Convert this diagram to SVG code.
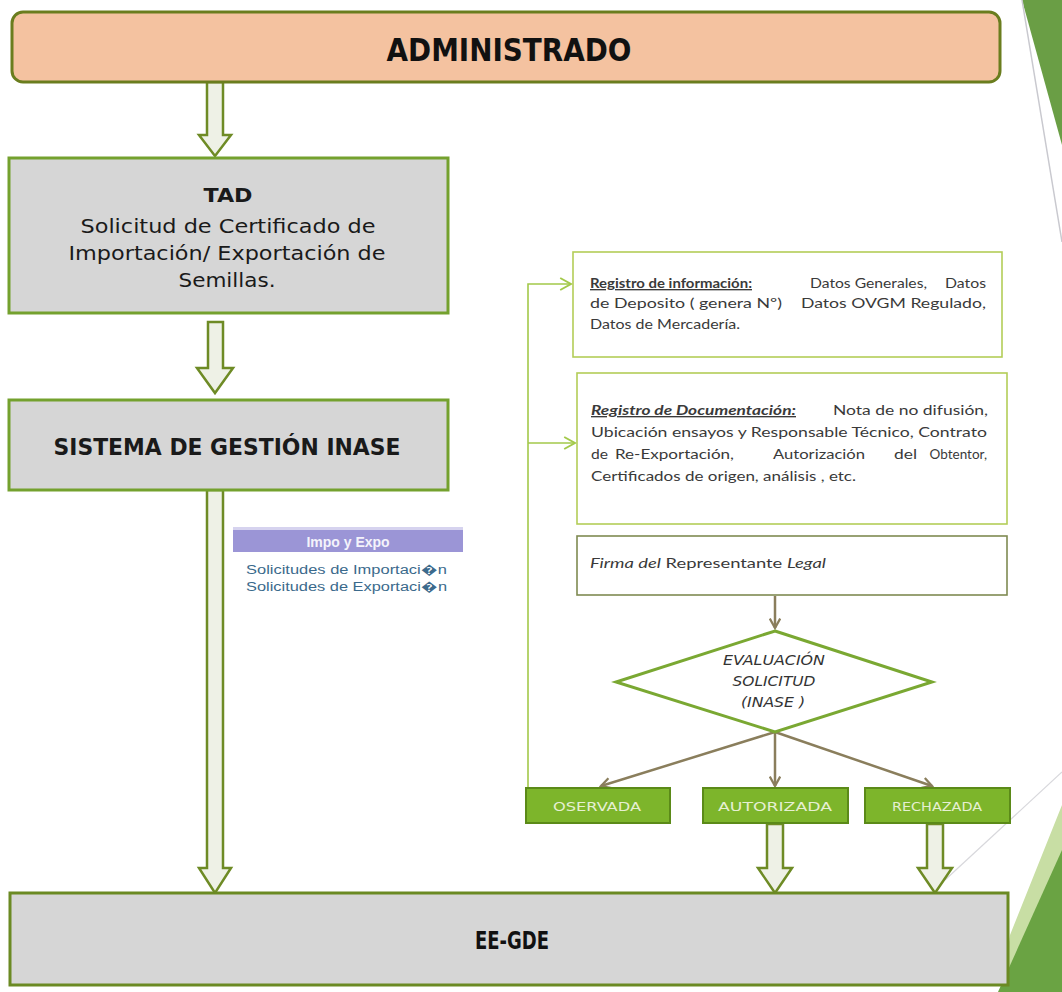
<svg xmlns="http://www.w3.org/2000/svg" width="1062" height="992" viewBox="0 0 1062 992">
<style>
.hdr{font-family:"DejaVu Sans Condensed","DejaVu Sans",sans-serif;font-weight:bold;fill:#111;}
.ttl{font-family:"DejaVu Sans",sans-serif;fill:#1a1a1a;}
.gray{fill:#d6d6d6;stroke:#74a12e;stroke-width:3;}
.blk{fill:#eef1e6;stroke:#6e8b25;stroke-width:2.5;stroke-linejoin:miter;}
.tbox{fill:#fff;stroke:#b3cd58;stroke-width:1.6;}
.small{font-family:Lato,"Liberation Sans",sans-serif;font-size:13.5px;fill:#3a3a3a;}
.gbox{fill:#7db52b;stroke:#5b8a18;stroke-width:2;}
.gtxt{font-family:"DejaVu Sans Condensed","DejaVu Sans",sans-serif;font-size:13px;fill:#e6efd2;text-anchor:middle;}
.dtxt{font-family:"DejaVu Sans Condensed","DejaVu Sans",sans-serif;font-size:14px;font-style:italic;fill:#333;text-anchor:middle;}
.brn{stroke:#8a7e5c;stroke-width:2.5;fill:none;}
.fb{stroke:#a3c94a;stroke-width:1.6;fill:none;}
</style>
<defs>
<marker id="ab" viewBox="0 0 12 12" refX="10" refY="6" markerWidth="5" markerHeight="5" orient="auto" markerUnits="strokeWidth">
<path d="M1,1 L10,6 L1,11" fill="none" stroke="#8a7e5c" stroke-width="2.2"/>
</marker>
<marker id="ag" viewBox="0 0 12 12" refX="10" refY="6" markerWidth="9" markerHeight="9" orient="auto" markerUnits="strokeWidth">
<path d="M1,1 L10,6 L1,11" fill="none" stroke="#a3c94a" stroke-width="1.6"/>
</marker>
</defs>
<rect width="1062" height="992" fill="#ffffff"/>
<g id="deco">
<polygon points="1022,0 1062,0 1062,145" fill="#6a9e45"/>
<line x1="1022" y1="0" x2="1062" y2="242" stroke="#c9c9cf" stroke-width="1.5"/>
<polygon points="1062,805 1062,855 1003,985 1010,935" fill="#c8dea4"/>
<polygon points="1062,850 1062,992 998,992" fill="#6aa343"/>
<line x1="945" y1="880" x2="1062" y2="772" stroke="#d8d8dc" stroke-width="1.2"/>
</g>
<g id="connectors">
<polygon class="blk" points="207,82 223,82 223,135 231,135 215,156 199,135 207,135"/>
<polygon class="blk" points="208,322 223,322 223,368 233,368 215,393 197,368 208,368"/>
<polygon class="blk" points="207,490 223,490 223,868 231,868 215,893 199,868 207,868"/>
<polygon class="blk" points="767,824 783,824 783,868 792,868 775,893 758,868 767,868"/>
<polygon class="blk" points="927,824 943,824 943,868 952,868 935,893 918,868 927,868"/>
<line class="brn" x1="775" y1="596" x2="775" y2="628" marker-end="url(#ab)"/>
<line class="brn" x1="775" y1="732" x2="601" y2="786" marker-end="url(#ab)"/>
<line class="brn" x1="775" y1="732" x2="775" y2="786" marker-end="url(#ab)"/>
<line class="brn" x1="775" y1="732" x2="932" y2="786" marker-end="url(#ab)"/>
<polyline class="fb" points="528,788 528,284 571,284" marker-end="url(#ag)"/>
<line class="fb" x1="528" y1="443" x2="575" y2="443" marker-end="url(#ag)"/>
</g>
<g id="administrado">
<rect x="12" y="12" width="988" height="70" rx="11" fill="#f4c2a0" stroke="#6a7d1e" stroke-width="3"/>
<text class="hdr" x="509" y="61" font-size="32" text-anchor="middle" textLength="245" lengthAdjust="spacingAndGlyphs">ADMINISTRADO</text>
</g>
<g id="tad">
<rect class="gray" x="9" y="158" width="439" height="155"/>
<text class="ttl" x="228" y="202" font-size="20" font-weight="bold" text-anchor="middle" textLength="49" lengthAdjust="spacingAndGlyphs">TAD</text>
<text class="ttl" x="228" y="233" font-size="20" text-anchor="middle" textLength="295" lengthAdjust="spacingAndGlyphs">Solicitud de Certificado de</text>
<text class="ttl" x="227" y="260" font-size="20" text-anchor="middle" textLength="317" lengthAdjust="spacingAndGlyphs">Importación/ Exportación de</text>
<text class="ttl" x="227" y="287" font-size="20" text-anchor="middle" textLength="97" lengthAdjust="spacingAndGlyphs">Semillas.</text>
</g>
<g id="sistema">
<rect class="gray" x="9" y="400" width="439" height="90"/>
<text class="ttl" x="227" y="455" font-size="23" font-weight="bold" text-anchor="middle" textLength="347" lengthAdjust="spacingAndGlyphs">SISTEMA DE GESTIÓN INASE</text>
</g>
<g id="impo-expo">
<rect x="233" y="527" width="230" height="3" fill="#d6d3ef"/>
<rect x="233" y="530" width="230" height="22" fill="#9b95d6"/>
<text x="348" y="547" font-family="Liberation Sans,Arial,sans-serif" font-size="14" font-weight="bold" fill="#f4f3fb" text-anchor="middle">Impo y Expo</text>
<text x="246" y="574" font-family="Liberation Sans,Arial,sans-serif" font-size="12.5" fill="#3b6a8c" textLength="201" lengthAdjust="spacingAndGlyphs">Solicitudes de Importaci�n</text>
<text x="246" y="591" font-family="Liberation Sans,Arial,sans-serif" font-size="12.5" fill="#3b6a8c" textLength="201" lengthAdjust="spacingAndGlyphs">Solicitudes de Exportaci�n</text>
</g>
<g id="registro-info">
<rect class="tbox" x="573" y="252" width="429" height="105"/>
<text class="small" x="590" y="288" font-weight="bold" text-decoration="underline" textLength="162" lengthAdjust="spacingAndGlyphs">Registro de información:</text>
<text class="small" x="810" y="288" textLength="117" lengthAdjust="spacingAndGlyphs">Datos Generales,</text>
<text class="small" x="945" y="288" textLength="41" lengthAdjust="spacingAndGlyphs">Datos</text>
<text class="small" x="590" y="308" textLength="192" lengthAdjust="spacingAndGlyphs">de Deposito ( genera Nº)</text>
<text class="small" x="801" y="308" textLength="185" lengthAdjust="spacingAndGlyphs">Datos OVGM Regulado,</text>
<text class="small" x="590" y="329" textLength="150" lengthAdjust="spacingAndGlyphs">Datos de Mercadería.</text>
</g>
<g id="registro-doc">
<rect class="tbox" x="577" y="373" width="430" height="151"/>
<text class="small" x="591" y="415" font-weight="bold" font-style="italic" text-decoration="underline" textLength="205" lengthAdjust="spacingAndGlyphs">Registro  de  Documentación:</text>
<text class="small" x="833" y="415" textLength="155" lengthAdjust="spacingAndGlyphs">Nota de no difusión,</text>
<text class="small" x="591" y="437" textLength="396" lengthAdjust="spacingAndGlyphs">Ubicación ensayos y Responsable Técnico, Contrato</text>
<text class="small" x="591" y="459" textLength="17" lengthAdjust="spacingAndGlyphs">de</text>
<text class="small" x="615" y="459" textLength="119" lengthAdjust="spacingAndGlyphs">Re-Exportación,</text>
<text class="small" x="773" y="459" textLength="92" lengthAdjust="spacingAndGlyphs">Autorización</text>
<text class="small" x="894" y="459" textLength="23" lengthAdjust="spacingAndGlyphs">del</text>
<text class="small" x="987" y="459" text-anchor="end">Obtentor,</text>
<text class="small" x="591" y="481" textLength="265" lengthAdjust="spacingAndGlyphs">Certificados  de origen, análisis , etc.</text>
</g>
<g id="firma">
<rect x="577" y="536" width="430" height="59" fill="#fff" stroke="#7f8a52" stroke-width="1.6"/>
<text class="small" x="590" y="568" fill="#222" textLength="236" lengthAdjust="spacingAndGlyphs"><tspan font-style="italic">Firma del</tspan> Representante <tspan font-style="italic">Legal</tspan></text>
</g>
<g id="evaluacion">
<polygon points="775,631 932,682 775,732 616,682" fill="#fff" stroke="#7aa832" stroke-width="3"/>
<text class="dtxt" x="774" y="665" textLength="102" lengthAdjust="spacingAndGlyphs">EVALUACIÓN</text>
<text class="dtxt" x="774" y="686" textLength="83" lengthAdjust="spacingAndGlyphs">SOLICITUD</text>
<text class="dtxt" x="773" y="707" textLength="64" lengthAdjust="spacingAndGlyphs">(INASE )</text>
</g>
<g id="oservada">
<rect class="gbox" x="526" y="788" width="144" height="35"/>
<text class="gtxt" x="597" y="811" textLength="88" lengthAdjust="spacingAndGlyphs">OSERVADA</text>
</g>
<g id="autorizada">
<rect class="gbox" x="703" y="788" width="145" height="35"/>
<text class="gtxt" x="775" y="811" textLength="114" lengthAdjust="spacingAndGlyphs">AUTORIZADA</text>
</g>
<g id="rechazada">
<rect class="gbox" x="865" y="788" width="145" height="35"/>
<text class="gtxt" x="937" y="811" textLength="90" lengthAdjust="spacingAndGlyphs">RECHAZADA</text>
</g>
<g id="ee-gde">
<rect x="10" y="893" width="998" height="92" fill="#d6d6d6" stroke="#6b8a23" stroke-width="3"/>
<text class="hdr" x="512" y="949" font-size="25" text-anchor="middle" textLength="74" lengthAdjust="spacingAndGlyphs">EE-GDE</text>
</g>
</svg>
